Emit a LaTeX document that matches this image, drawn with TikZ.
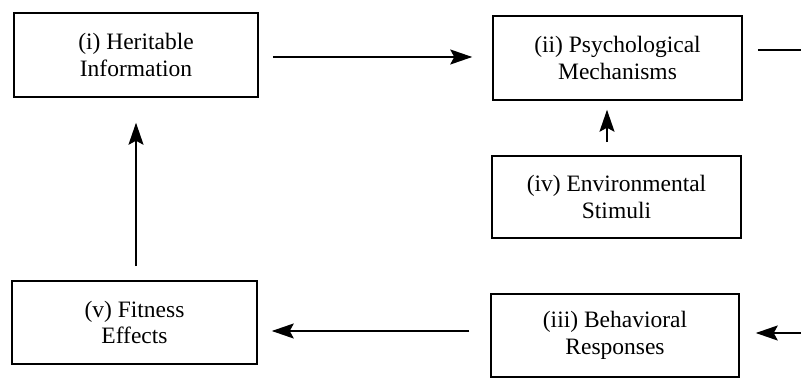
\documentclass[tikz,border=0pt]{standalone}
\usepackage{fontspec}
\setmainfont{Liberation Serif}
\usetikzlibrary{arrows.meta,calc}
\begin{document}
\begin{tikzpicture}[x=1pt,y=-1pt,
  box/.style={draw, line width=1.5pt, inner sep=0pt, align=center,
    font=\fontsize{23.5}{26.5}\selectfont},
  arr/.style={line width=1.8pt, -{Stealth[length=22pt,width=15pt,inset=4pt]}},
  ln/.style={line width=1.8pt}]
\useasboundingbox (0,0) rectangle (801,379);
\node[box, minimum width=244pt, minimum height=84pt] (i) at (136,55) {(i) Heritable\\Information};
\node[box, minimum width=249pt, minimum height=84pt] (ii) at (617.5,58) {(ii) Psychological\\Mechanisms};
\node[box, minimum width=249pt, minimum height=82pt] (iv) at (616.5,197) {(iv) Environmental\\Stimuli};
\node[box, minimum width=245pt, minimum height=83pt] (v) at (134.5,322.5) {(v) Fitness\\Effects};
\node[box, minimum width=248pt, minimum height=83pt] (iii) at (615,335.5) {(iii) Behavioral\\Responses};
\coordinate (rtop) at (801,50);
\coordinate (rbot) at (801,333);
% i -> ii
\draw[arr] ($(i.east)+(14,2)$) -- ($(ii.west)+(-20,-1)$);
% iv -> ii
\draw[arr] ($(iv.north)+(-9.5,-13)$) -- ($(ii.south)+(-10.5,9)$);
% v -> i
\draw[arr] ($(v.north)+(1.5,-14)$) -- ($(i.south)+(0,25)$);
% iii -> v
\draw[arr] ($(iii.west)+(-21,-4.5)$) -- ($(v.east)+(14,8.5)$);
% right edge -> iii
\draw[arr] (rbot) -- ($(iii.east)+(16,-2.5)$);
% ii -> right edge
\draw[ln] ($(ii.east)+(15,-8)$) -- (rtop);
\end{tikzpicture}
\end{document}
